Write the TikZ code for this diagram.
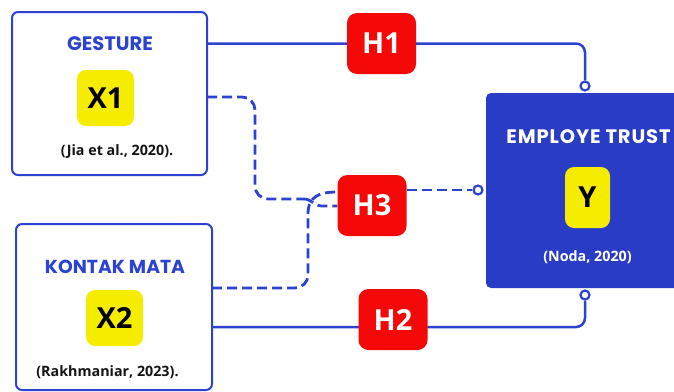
\documentclass[tikz,border=0pt]{standalone}
\usepackage{fontspec}
\setmainfont{Open Sans}
\newfontfamily\titlefont{Poppins}
\usetikzlibrary{backgrounds}
\definecolor{lineblue}{RGB}{44,66,208}
\definecolor{boxblue}{RGB}{40,60,198}
\definecolor{hred}{RGB}{245,8,8}
\definecolor{xyellow}{RGB}{246,236,0}
\definecolor{citeink}{RGB}{20,20,20}
\tikzset{
  varbox/.style={draw=lineblue, line width=2pt, rounded corners=6pt, fill=white, inner sep=0pt},
  depbox/.style={fill=boxblue, rounded corners=5pt, inner sep=0pt},
  xtag/.style={fill=xyellow, rounded corners=9pt, inner sep=0pt, font=\fontsize{29}{30}\selectfont\bfseries, text=black},
  htag/.style={fill=hred, rounded corners=10pt, inner sep=0pt, minimum width=69pt, minimum height=61pt, font=\fontsize{29}{30}\selectfont\bfseries, text=white},
  title/.style={font=\titlefont\fontsize{19.5}{21}\selectfont\bfseries, text=lineblue, inner sep=0pt},
  cite/.style={font=\fontsize{14.3}{16}\selectfont\bfseries, text=citeink, inner sep=0pt},
  conn/.style={draw=lineblue, line width=2.5pt},
  dconn/.style={draw=lineblue, line width=2.8pt, dash pattern=on 10pt off 5pt},
  endcirc/.style={circle, draw=lineblue, line width=2.2pt, fill=white, inner sep=0pt, minimum size=9pt},
}
\begin{document}
\begin{tikzpicture}[x=1pt,y=-1pt]
\useasboundingbox (0,0) rectangle (674,391);
% boxes
\node[varbox, minimum width=195pt, minimum height=163pt] (x1box) at (109.5,93.5) {};
\node[varbox, minimum width=196pt, minimum height=166pt] (x2box) at (114,307) {};
\node[depbox, minimum width=196pt, minimum height=195pt] (ybox) at (584,190.5) {};
% texts X1
\node[title] (x1title) at (110,44) {GESTURE};
\node[xtag, minimum width=57pt, minimum height=56pt] (x1tag) at (105.5,98) {X1};
\node[cite] (x1cite) at (117,152) {(Jia et al., 2020).};
% texts X2
\node[title, font=\titlefont\fontsize{18.8}{21}\selectfont\bfseries] (x2title) at (115,267) {KONTAK MATA};
\node[xtag, minimum width=57pt, minimum height=56pt] (x2tag) at (114.5,318) {X2};
\node[cite] (x2cite) at (107.5,372) {(Rakhmaniar, 2023).};
% texts Y
\node[title, text=white, font=\titlefont\fontsize{19.5}{21}\selectfont\bfseries\addfontfeature{LetterSpace=4.5}] (ytitle) at (588.5,137) {EMPLOYE TRUST};
\node[xtag, minimum width=45pt, minimum height=61pt] (ytag) at (587.5,197.5) {Y};
\node[cite, text=white] (ycite) at (587.5,257) {(Noda, 2020)};
% hypotheses
\node[htag] (h1) at (381.5,43.5) {H1};
\node[htag] (h2) at (393,319.5) {H2};
\node[htag] (h3) at (372,205.5) {H3};
% end circles
\node[endcirc] (c1) at (585,86) {};
\node[endcirc] (c2) at (585,295) {};
\node[endcirc] (c3) at (478,190) {};
\coordinate (a1) at (207,97);
\coordinate (a2) at (212,288);
\begin{scope}[on background layer]
\draw[conn, rounded corners=9pt] (x1box.east |- h1) -- (h1) -- (585,43.5) -- (c1.north);
\draw[conn, rounded corners=9pt] (x2box.east |- 0,327) -- (h2.center |- 0,327) -- (585,327) -- (c2.south);
\draw[dconn] (h3.east |- c3) -- (c3.west);
\draw[dconn, rounded corners=13pt] (a1) -- (255,97) -- (255,199) -- (304,199);
\draw[dconn] (304,199) to[out=0,in=180] (322,206) -- (h3.west |- 0,206);
\draw[dconn, rounded corners=13pt] (a2) -- (308,288) -- (308,214);
\draw[dconn] (308,214) .. controls (308,196) and (320,192) .. (h3.west |- 0,192);
\end{scope}
\end{tikzpicture}
\end{document}
